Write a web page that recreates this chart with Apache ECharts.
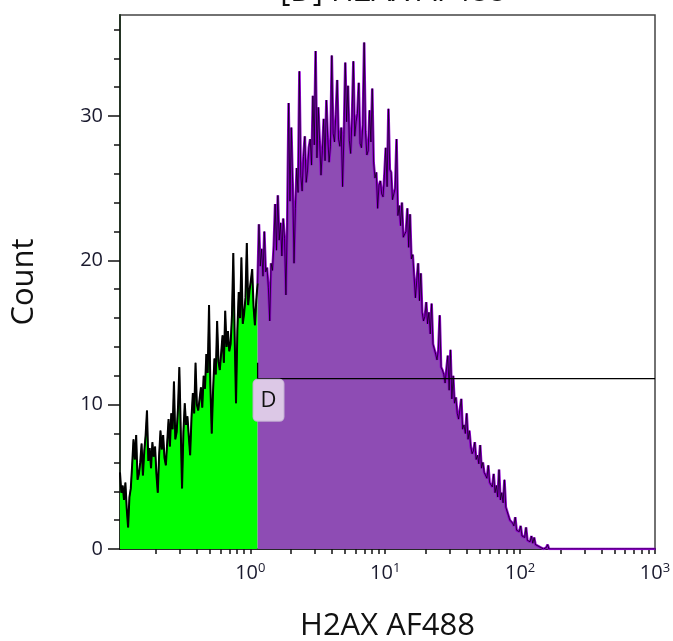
<!DOCTYPE html>
<html>
<head>
<meta charset="utf-8">
<script src="https://cdn.jsdelivr.net/npm/echarts@6/dist/echarts.min.js"></script>
<style>html,body{margin:0;padding:0;background:#fff}#c{width:673px;height:641px}</style>
</head>
<body>
<div id="c"></div>
<script>
// ---- data (histogram on log10 channel scale) ----
const titleText = '[D] H2AX AF488';
const xName = 'H2AX AF488';
const yName = 'Count';
const binStartLog = -0.966;  // log10 of first channel
const binStepLog = 0.01;     // channel width in log10 units
const counts = [
 // channels 0-101 (below gate D)
 5.3,3.9,4.4,3.4,4.6,2.8,1.5,3.6,4.2,5.8,
 7.6,6.2,7.9,4.8,5.2,6.0,7.3,5.1,6.8,7.9,
 9.6,6.1,7.0,5.6,7.4,6.4,7.1,5.2,3.9,6.5,
 8.2,6.9,7.9,6.3,5.8,7.4,9.0,7.1,9.4,8.3,
 11.6,7.6,8.1,9.8,12.6,8.4,4.2,8.1,10.1,8.6,
 9.2,7.8,6.5,9.1,10.8,9.4,12.9,10.0,9.6,10.4,
 11.2,9.8,12.0,11.1,13.5,12.2,16.9,11.4,8.0,11.0,
 13.2,12.1,15.8,13.0,12.4,13.6,14.8,12.9,16.5,14.0,
 15.1,13.7,14.2,16.2,20.5,14.8,10.1,15.1,17.8,16.0,
 20.2,15.6,16.3,17.4,21.2,16.9,17.9,18.6,19.4,16.8,
 15.5,17.2,
 // channel 102 = gate D start
 18.4,
 // channels 103-320
 22.5,19.6,20.8,18.9,22.0,19.2,19.5,18.1,15.8,19.8,
 19.3,21.0,23.9,20.7,24.5,21.4,22.6,20.3,22.9,21.5,
 17.6,22.6,30.9,24.1,29.2,25.3,19.8,23.6,26.4,24.7,
 33.1,25.9,24.8,27.2,28.6,25.4,26.2,27.8,28.4,26.6,
 31.4,28.0,34.5,27.1,30.6,28.3,25.9,27.6,29.8,26.9,
 31.1,28.5,26.8,27.9,34.2,28.8,28.2,30.1,32.5,28.4,
 27.9,29.2,25.1,28.7,33.7,29.6,32.1,28.3,27.4,29.9,
 33.8,28.6,29.6,30.2,32.3,28.1,27.8,29.4,35.1,28.9,
 27.3,27.6,30.4,28.2,31.9,26.8,25.7,26.1,23.6,25.2,
 25.5,24.6,24.4,25.9,27.8,25.1,30.5,26.3,26.1,24.2,
 24.6,25.0,28.4,23.1,23.8,22.4,24.0,21.6,21.5,22.0,
 23.6,20.9,23.2,20.1,20.4,18.9,17.4,18.6,19.8,17.2,
 19.1,16.4,15.8,16.1,17.1,15.6,16.4,14.9,17.0,14.2,
 14.2,13.5,13.1,13.8,16.2,12.6,12.4,12.1,11.5,11.6,
 13.4,11.0,13.8,10.4,12.0,10.1,10.5,9.4,9.0,9.1,
 10.4,8.3,8.6,8.0,9.4,7.6,8.2,7.1,6.6,6.8,
 7.4,6.2,6.5,5.9,7.2,5.6,6.0,5.3,5.4,4.9,
 5.8,4.6,4.6,4.3,5.2,3.9,4.4,3.6,5.5,3.4,
 3.9,3.2,4.8,2.9,2.9,2.3,2.0,1.9,1.8,1.6,
 2.2,1.3,1.4,1.2,1.6,0.9,1.0,0.8,1.5,0.6,
 0.7,0.5,0.9,0.4,0.8,0.3,0.4,0.2,0.3,0.1,
 0.1,0,0.1,0.1,0.3,0,0,0,
 // channels 321-397
 0,0,0,0,0,0,0,0,0,0,
 0,0,0,0,0,0,0,0,0,0,
 0,0,0,0,0,0,0,0,0,0,
 0,0,0,0,0,0,0,0,0,0,
 0,0,0,0,0,0,0,0,0,0,
 0,0,0,0,0,0,0,0,0,0,
 0,0,0,0,0,0,0,0,0,0,
 0,0,0,0,0,0,0
];
const gateStartBin = 102;        // first channel of gate D (log10 = 0.054)
const gateEndLog = 3;            // gate D upper bound (log10)
const gateLevel = 11.8;          // drawing height of gate bar
const gateTickTop = 12.9;
const gateLabel = 'D';
const gateLabelPos = [0.135, 10.3];
const xMinLog = -0.966, xMaxLog = 3;
const yMin = 0, yMax = 37;
const xMajor = [0, 1, 2, 3];
const yMajor = [0, 10, 20, 30];
const yMinor = [2,4,6,8,12,14,16,18,22,24,26,28,32,34,36];

// ---- derived ----
const histData = counts.map((c, i) => [+(binStartLog + i * binStepLog).toFixed(4), c]);
const greenData = histData.slice(0, gateStartBin + 1);
const purpleData = histData.slice(gateStartBin);
const gateStartLog = histData[gateStartBin][0];
const xMinor = [];
for (let d = -1; d <= 2; d++) for (let k = 2; k <= 9; k++) {
  const v = d + Math.log10(k);
  if (v > xMinLog && v < xMaxLog) xMinor.push(v);
}
const FONT = "'Open Sans', 'Noto Sans', sans-serif";
const GREEN = '#00ff00', PURPLE = '#8e4cb4';
const lineBase = {type: 'line', showSymbol: false, symbol: 'none', xAxisIndex: 0, yAxisIndex: 0};

const chart = echarts.init(document.getElementById('c'), null, {renderer: 'canvas'});
chart.setOption({
  animation: false,
  backgroundColor: '#fff',
  title: {
    text: titleText, left: 388, top: -28, textAlign: 'center',
    textStyle: {fontFamily: FONT, fontSize: 31, fontWeight: 'normal', color: '#111'}
  },
  grid: {left: 120, right: 18, top: 15, bottom: 92, outerBoundsMode: 'none', containLabel: false,
         show: true, borderColor: '#444', borderWidth: 1.5, backgroundColor: 'transparent'},
  xAxis: [{
    type: 'value', min: xMinLog, max: xMaxLog,
    name: xName, nameLocation: 'middle', nameGap: 62,
    nameTextStyle: {fontFamily: FONT, fontSize: 31, color: '#111'},
    axisLine: {show: true, onZero: false, lineStyle: {color: '#111', width: 1.5}},
    axisTick: {show: true, customValues: xMajor, length: 5, lineStyle: {color: '#111', width: 1.5}},
    axisLabel: {
      customValues: xMajor, margin: 13, fontFamily: FONT, fontSize: 20, color: '#1a1a2e',
      formatter: v => '10{s|' + Math.round(v) + '}',
      rich: {s: {fontFamily: FONT, fontSize: 13, color: '#1a1a2e', verticalAlign: 'top', padding: [0, 0, 10, 0]}}
    },
    splitLine: {show: false}
  }, {
    type: 'value', min: xMinLog, max: xMaxLog, position: 'bottom',
    axisLine: {show: false, onZero: false},
    axisTick: {show: true, customValues: xMinor, length: 5, lineStyle: {color: '#111', width: 1.5}},
    axisLabel: {show: false}, splitLine: {show: false}
  }],
  yAxis: [{
    type: 'value', min: yMin, max: yMax,
    name: yName, nameLocation: 'middle', nameGap: 80, nameRotate: 90,
    nameTextStyle: {fontFamily: FONT, fontSize: 31, color: '#111'},
    axisLine: {show: true, onZero: false, lineStyle: {color: '#243424', width: 2}},
    axisTick: {show: true, customValues: yMajor, length: 12, lineStyle: {color: '#111', width: 1.5}},
    axisLabel: {customValues: yMajor, margin: 17, fontFamily: FONT, fontSize: 20, color: '#1a1a2e'},
    splitLine: {show: false}
  }, {
    type: 'value', min: yMin, max: yMax, position: 'left',
    axisLine: {show: false, onZero: false},
    axisTick: {show: true, customValues: yMinor, length: 6, lineStyle: {color: '#111', width: 1.5}},
    axisLabel: {show: false}, splitLine: {show: false}
  }],
  series: [
    Object.assign({}, lineBase, {data: greenData, lineStyle: {width: 0}, itemStyle: {color: GREEN},
      areaStyle: {color: GREEN, opacity: 1}, z: 2}),
    Object.assign({}, lineBase, {data: purpleData, lineStyle: {width: 0}, itemStyle: {color: PURPLE},
      areaStyle: {color: PURPLE, opacity: 1}, z: 2}),
    Object.assign({}, lineBase, {data: purpleData, lineStyle: {width: 2.6, color: '#9000d0'}, itemStyle: {color: '#9000d0'}, z: 3}),
    Object.assign({}, lineBase, {data: greenData, lineStyle: {width: 2, color: '#000'}, itemStyle: {color: '#000'}, z: 3}),
    Object.assign({}, lineBase, {data: histData, lineStyle: {width: 0.7, color: '#000'}, itemStyle: {color: '#000'}, z: 4}),
    Object.assign({}, lineBase, {data: [[gateStartLog, gateTickTop], [gateStartLog, gateLevel], [gateEndLog, gateLevel]],
      lineStyle: {width: 1.3, color: '#000'}, itemStyle: {color: '#000'}, z: 5}),
    {
      type: 'scatter', data: [gateLabelPos], symbolSize: 0, z: 6, xAxisIndex: 0, yAxisIndex: 0,
      itemStyle: {opacity: 1},
      label: {
        show: true, position: 'inside', formatter: gateLabel, opacity: 1,
        fontFamily: FONT, fontSize: 22, color: '#111', lineHeight: 27,
        backgroundColor: '#dcc8e6', borderColor: '#c2aed2', borderWidth: 1, borderRadius: 4,
        padding: [7, 7, 7, 7]
      }
    }
  ]
});
</script>
</body>
</html>
